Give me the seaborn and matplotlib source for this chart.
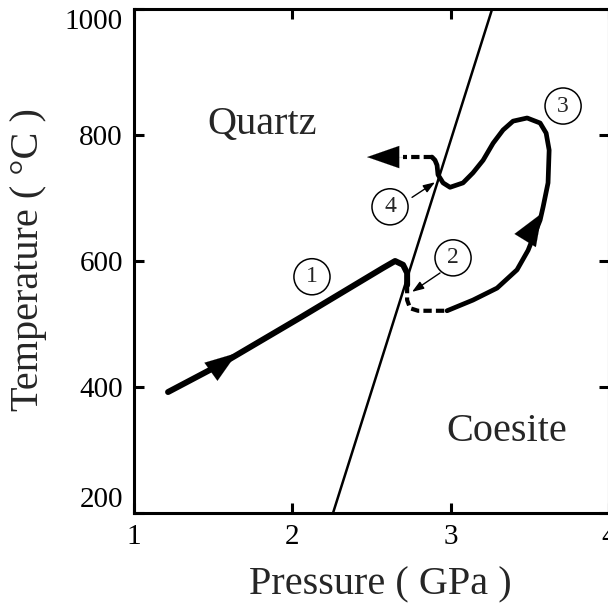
import numpy as np
import pandas as pd
import seaborn as sns
import matplotlib.pyplot as plt

# P-T path (pressure in GPa, temperature in deg C)
leg1_p = [1.215, 1.562, 2.049, 2.573, 2.649, 2.699, 2.725, 2.725]
leg1_t = [392, 438, 510, 589, 600, 594, 581, 562]

leg2_p = [2.725, 2.725, 2.744, 2.794, 2.977]
leg2_t = [562, 538, 525, 521, 521]

leg3_p = [2.977, 3.141, 3.293, 3.419, 3.489, 3.565, 3.584, 3.615, 3.622, 3.603,
          3.565, 3.483, 3.394, 3.331, 3.268, 3.205, 3.141, 3.078, 2.996, 2.952,
          2.920, 2.914, 2.901, 2.882]
leg3_t = [521, 538, 557, 586, 617, 665, 686, 724, 776, 803,
          819, 827, 822, 808, 787, 760, 740, 724, 717, 724,
          737, 752, 760, 765]

leg4_p = [2.882, 2.699]
leg4_t = [765, 765]

# quartz / coesite boundary
boundary_p = [2.257, 3.262]
boundary_t = [200, 1000]

# direction arrows (base, tip)
heads = [((1.496, 426), (1.651, 454)),
         ((3.479, 636), (3.577, 676)),
         ((2.699, 765), (2.472, 765))]

# circled stage numbers
stage_labels = ['1', '2', '3', '4']
stage_p = [2.124, 3.015, 3.710, 2.617]
stage_t = [575, 605, 846, 686]

# pointer arrows from labels 2 and 4 (tail, tip)
pointers = [((2.933, 581), (2.756, 551)),
            ((2.756, 701), (2.901, 725))]

x_ticks = [1, 2, 3, 4]
y_ticks = [200, 400, 600, 800, 1000]

sns.set_style('ticks')
plt.rcParams['font.family'] = ['Liberation Serif', 'DejaVu Serif']

fig = plt.figure(figsize=(6.08, 6.08), dpi=100)
ax = fig.add_axes([134 / 608, 95 / 608, 475 / 608, 504 / 608])

sns.lineplot(x=boundary_p, y=boundary_t, sort=False, estimator=None,
             color='black', lw=1.8, ax=ax)
sns.lineplot(x=leg1_p, y=leg1_t, sort=False, estimator=None,
             color='black', lw=4.3, ax=ax, solid_joinstyle='round')
sns.lineplot(x=leg2_p, y=leg2_t, sort=False, estimator=None,
             color='black', lw=3.0, ax=ax, linestyle=(0, (2, 1)),
             dash_capstyle='butt')
sns.lineplot(x=leg3_p, y=leg3_t, sort=False, estimator=None,
             color='black', lw=3.4, ax=ax, solid_joinstyle='round',
             solid_capstyle='round')
sns.lineplot(x=leg4_p, y=leg4_t, sort=False, estimator=None,
             color='black', lw=3.0, ax=ax, linestyle=(0, (2, 1)),
             dash_capstyle='butt')

for i, (base, tip) in enumerate(heads):
    hw = 0.9 if i == 1 else 0.8
    ax.annotate('', xy=tip, xytext=base,
                arrowprops=dict(arrowstyle=f'-|>,head_length=2.3,head_width={hw}',
                                mutation_scale=10, lw=0.1, fc='black',
                                ec='black', shrinkA=0, shrinkB=0))

for tail, tip in pointers:
    ax.annotate('', xy=tip, xytext=tail,
                arrowprops=dict(arrowstyle='-|>,head_length=0.7,head_width=0.25',
                                mutation_scale=10, lw=1.0, fc='black',
                                ec='black', shrinkA=0, shrinkB=0))

for lab, p, t in zip(stage_labels, stage_p, stage_t):
    ax.text(p, t, lab, fontsize=17, ha='center', va='center',
            bbox=dict(boxstyle='circle,pad=0.32', fc='white', ec='black', lw=1.1))

ax.text(1.808, 816, 'Quartz', fontsize=29, ha='center', va='center')
ax.text(3.356, 329, 'Coesite', fontsize=29, ha='center', va='center')

ax.set_xlim(1, 4)
ax.set_ylim(200, 1000)
ax.set_xticks(x_ticks)
ax.set_yticks(y_ticks)
ax.tick_params(direction='in', length=7, width=2.2, labelsize=21, pad=8,
               top=True, right=True, colors='black')
for s in ax.spines.values():
    s.set_linewidth(2.2)
    s.set_color('black')

ylabs = ax.get_yticklabels()
ylabs[0].set_va('bottom')
ylabs[-1].set_va('top')

ax.set_xlabel('Pressure ( GPa )', fontsize=29)
ax.set_ylabel('Temperature ( °C )', fontsize=29)
ax.xaxis.set_label_coords(0.518, -0.143)
ax.xaxis.label.set_va('center')
ax.yaxis.set_label_coords(-0.223, 0.502)
ax.yaxis.label.set_va('center')

fig.savefig('out.png', dpi=100)
